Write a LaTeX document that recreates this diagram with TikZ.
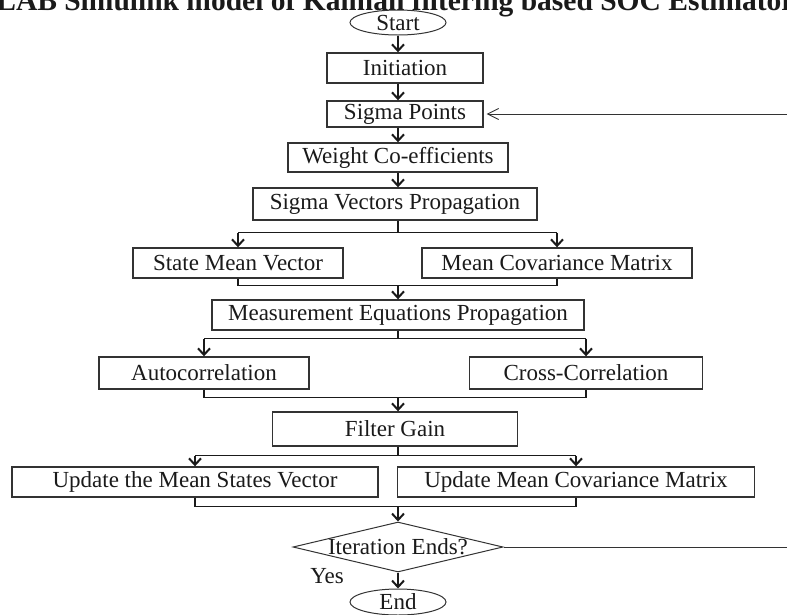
\documentclass[tikz,border=0pt]{standalone}
\usepackage{fontspec}
\setmainfont{Liberation Serif}
\usetikzlibrary{arrows.meta,positioning,shapes.geometric}
\definecolor{ink}{HTML}{1A1A1A}
\definecolor{edge}{HTML}{333333}
\tikzset{
  flow/.style={-{Straight Barb[length=6.5pt,width=12pt,line width=2pt]}, line width=1.2pt, draw=ink},
  link/.style={line width=1.2pt, draw=ink},
  loopback/.style={-{Straight Barb[length=11pt,width=11pt,line width=0.9pt]}, line width=0.9pt, draw=edge},
  stepbox/.style={
    draw=edge,
    line width=1.4pt,
    fill=white,
    inner sep=0pt,
    align=center,
    text=ink,
    font=\fontsize{23}{26}\selectfont
  },
  terminal/.style={stepbox, ellipse, line width=1pt, minimum width=96pt, minimum height=25pt},
  decision/.style={stepbox, diamond, aspect=4.2, line width=1pt, minimum width=210pt, minimum height=50pt}
}

\begin{document}
\begin{tikzpicture}[x=1pt, y=-1pt]
  \useasboundingbox (0,0) rectangle (787,614);
  \clip (0,0) rectangle (787,614);

  % cropped caption at the top edge
  \node[anchor=base west, inner sep=0pt, font=\bfseries\fontsize{29.5}{31}\selectfont, text=ink] (caption)
    at (-70.5,10) {MATLAB Simulink model of Kalman filtering based SOC Estimator};

  % main column
  \node[terminal] (start) at (398,22.5) {Start};
  \node[stepbox, minimum width=156pt, minimum height=30pt] (init) at (405,68) {Initiation};
  \node[stepbox, minimum width=156pt, minimum height=26pt] (sigma) at (405,114) {Sigma Points};
  \node[stepbox, minimum width=220pt, minimum height=29pt] (weight) at (398,157.5) {Weight Co-efficients};
  \node[stepbox, minimum width=284pt, minimum height=32pt] (svp) at (395,204) {Sigma Vectors Propagation};
  \node[stepbox, minimum width=210pt, minimum height=30pt] (statemean) at (238,263) {State Mean Vector};
  \node[stepbox, minimum width=270pt, minimum height=30pt] (meancov) at (557,263) {Mean Covariance Matrix};
  \node[stepbox, minimum width=372pt, minimum height=30pt] (meas) at (398,315) {Measurement Equations Propagation};
  \node[stepbox, minimum width=210pt, minimum height=32pt] (auto) at (204,373) {Autocorrelation};
  \node[stepbox, minimum width=233pt, minimum height=32pt] (cross) at (586,373) {Cross-Correlation};
  \node[stepbox, minimum width=245pt, minimum height=34pt] (gain) at (395,429) {Filter Gain};
  \node[stepbox, minimum width=366pt, minimum height=30pt] (updstate) at (195,482) {Update the Mean States Vector};
  \node[stepbox, minimum width=357pt, minimum height=30pt] (updcov) at (576,482) {Update Mean Covariance Matrix};
  \node[decision] (ends) at (398,547) {Iteration Ends?};
  \node[terminal, minimum height=26pt] (stop) at (398,602) {End};
  \node[text=ink, inner sep=0pt, font=\fontsize{23}{26}\selectfont] (yes) at (327,576) {Yes};

  % straight steps
  \draw[flow] (start.south) -- (start.south |- init.north);
  \draw[flow] (init.south -| start) -- (start |- sigma.north);
  \draw[flow] (sigma.south -| start) -- (weight.north -| start);
  \draw[flow] (weight.south -| start) -- (svp.north -| start);

  % split and merge after the propagation
  \draw[link] (svp.south -| start) -- ++(0,12) coordinate (split1);
  \draw[link] (statemean.north |- split1) -- (meancov.north |- split1);
  \draw[flow] (statemean.north |- split1) -- (statemean.north);
  \draw[flow] (meancov.north |- split1) -- (meancov.north);
  \draw[link] (statemean.south) -- ++(0,7) coordinate (merge1) -| (meancov.south);
  \draw[flow] (merge1 -| start) -- (meas.north -| start);

  % split and merge after the measurement step
  \draw[link] (meas.south -| start) -- ++(0,8) coordinate (split2);
  \draw[link] (auto.north |- split2) -- (cross.north |- split2);
  \draw[flow] (auto.north |- split2) -- (auto.north);
  \draw[flow] (cross.north |- split2) -- (cross.north);
  \draw[link] (auto.south) -- ++(0,8) coordinate (merge2) -| (cross.south);
  \draw[flow] (merge2 -| start) -- (gain.north -| start);

  % split and merge after the gain
  \draw[link] (gain.south -| start) -- ++(0,9) coordinate (split3);
  \draw[link] (updstate.north |- split3) -- (updcov.north |- split3);
  \draw[flow] (updstate.north |- split3) -- (updstate.north);
  \draw[flow] (updcov.north |- split3) -- (updcov.north);
  \draw[link] (updstate.south) -- ++(0,9) coordinate (merge3) -| (updcov.south);
  \draw[flow] (merge3 -| start) -- (ends.north);
  \draw[flow] (ends.south) -- (stop.north);

  % loop back to the sigma points (runs past the right edge)
  \coordinate (rim) at (800,547);
  \draw[loopback, shorten >=3pt] (ends.east) -- (rim) |- (sigma.east);
\end{tikzpicture}
\end{document}
